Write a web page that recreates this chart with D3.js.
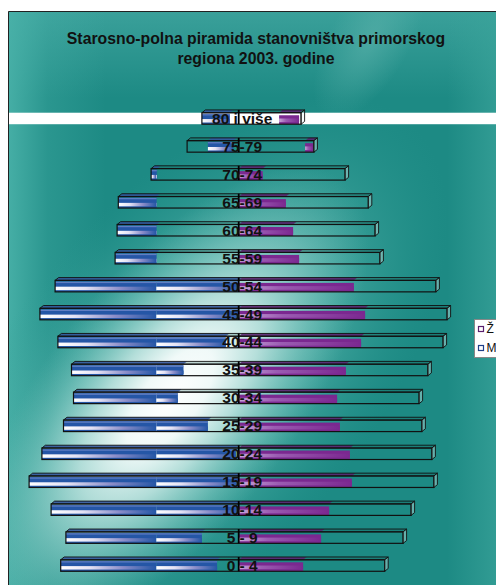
<!DOCTYPE html>
<html><head><meta charset="utf-8">
<script src="https://cdn.jsdelivr.net/npm/d3@7"></script>
<style>html,body{margin:0;padding:0;background:#fff;} svg{display:block;}</style>
</head><body>
<svg id="c" width="496" height="585"></svg>
<script>
// ---------- data ----------
const categories = ["0 - 4","5 - 9","10-14","15-19","20-24","25-29","30-34","35-39","40-44","45-49","50-54","55-59","60-64","65-69","70-74","75-79","80 i više"];
const frameLeft  = [-4450,-4320,-4690,-5240,-4920,-4380,-4130,-4180,-4520,-4970,-4590,-3090,-3040,-3010,-2190,-1290,-920];
const frameRight = [3650,4110,4310,4880,4830,4580,4510,4730,5110,5210,4930,3530,3410,3240,2660,1880,1560];
const maleStart  = [-4450,-4320,-4690,-5240,-4920,-4380,-4130,-4180,-4520,-4970,-4590,-3090,-3040,-3010,-2190,-770,-920];
const maleEnd    = [-540,-920,0,0,-70,-770,-1520,-1380,-320,0,0,-2050,-2050,-2050,-2040,-140,-220];
const femaleStart= [0,0,0,0,0,0,0,0,0,0,0,0,0,0,0,1660,1010];
const femaleEnd  = [1610,2060,2260,2830,2780,2530,2460,2680,3060,3160,2880,1510,1360,1180,600,1860,1510];
const maleBreak  = -2060;
const legendLabels = ["Ž","M"];
const titleLines = ["Starosno-polna piramida stanovništva primorskog","regiona 2003. godine"];

// ---------- setup ----------
const W = 496, H = 585;
const svg = d3.select("#c");
const defs = svg.append("defs");
const cx0 = 238.7;
const x = d3.scaleLinear().domain([-8000, 8000]).range([cx0 - 320, cx0 + 320]);
const y = d3.scaleBand().domain(categories.slice().reverse()).range([104.5, 579.5]).padding(0);

// gradients
const bg = defs.append("linearGradient").attr("id","bgv").attr("x1",0).attr("y1",0).attr("x2",0).attr("y2",1);
bg.append("stop").attr("offset",0).attr("stop-color","#3aa09a");
bg.append("stop").attr("offset",0.15).attr("stop-color","#1d8a84");
bg.append("stop").attr("offset",1).attr("stop-color","#1d8a84");
const bh = defs.append("linearGradient").attr("id","bgh").attr("x1",0).attr("y1",0).attr("x2",1).attr("y2",0);
bh.append("stop").attr("offset",0).attr("stop-color","#4ab2a9").attr("stop-opacity",0.9);
bh.append("stop").attr("offset",0.08).attr("stop-color","#4ab2a9").attr("stop-opacity",0.3);
bh.append("stop").attr("offset",0.2).attr("stop-color","#4ab2a9").attr("stop-opacity",0);
bh.append("stop").attr("offset",0.9).attr("stop-color","#3aa39a").attr("stop-opacity",0);
bh.append("stop").attr("offset",1).attr("stop-color","#3aa39a").attr("stop-opacity",0.7);
const glowBig = defs.append("radialGradient").attr("id","glowBig")
  .attr("gradientUnits","userSpaceOnUse").attr("cx",0).attr("cy",0).attr("r",1)
  .attr("gradientTransform","translate(190,380) rotate(-50) scale(340,180)");
[[0,"#9ad5cf",0.95],[0.5,"#66bcb4",0.6],[1,"#2a9a92",0]]
  .forEach(s=>glowBig.append("stop").attr("offset",s[0]).attr("stop-color",s[1]).attr("stop-opacity",s[2]));
const glow = defs.append("radialGradient").attr("id","glow")
  .attr("gradientUnits","userSpaceOnUse").attr("cx",0).attr("cy",0).attr("r",1)
  .attr("gradientTransform","translate(170,400) rotate(-52) scale(280,125)");
[[0,"#ffffff",1],[0.22,"#f4fbfa",0.97],[0.45,"#c6e7e3",0.82],[0.75,"#86cbc4",0.4],[1,"#66bcb4",0]]
  .forEach(s=>glow.append("stop").attr("offset",s[0]).attr("stop-color",s[1]).attr("stop-opacity",s[2]));
const glow2 = defs.append("radialGradient").attr("id","glow2")
  .attr("gradientUnits","userSpaceOnUse").attr("cx",0).attr("cy",0).attr("r",1)
  .attr("gradientTransform","translate(370,40) rotate(-60) scale(90,40)");
[[0,"#5db3ac",0.6],[1,"#5db3ac",0]].forEach(s=>glow2.append("stop").attr("offset",s[0]).attr("stop-color",s[1]).attr("stop-opacity",s[2]));

const blueShine = defs.append("linearGradient").attr("id","blueShine").attr("x1",0).attr("y1",0).attr("x2",1).attr("y2",0);
[[0,"#ffffff"],[0.3,"#e4e2f4"],[0.65,"#8a8cc8"],[1,"#2556a6"]].forEach(s=>blueShine.append("stop").attr("offset",s[0]).attr("stop-color",s[1]));
const purpShine = defs.append("linearGradient").attr("id","purpShine").attr("x1",0).attr("y1",0).attr("x2",1).attr("y2",0);
[[0,"#c8a6d8"],[0.35,"#9b5cb2"],[1,"#7b2890"]].forEach(s=>purpShine.append("stop").attr("offset",s[0]).attr("stop-color",s[1]));

// background
const plotL = 8.5, plotT = 11.5;
["url(#bgv)","url(#bgh)","url(#glow2)","url(#glowBig)","url(#glow)"].forEach(f=>
  svg.append("rect").attr("x",plotL).attr("y",plotT).attr("width",W-plotL).attr("height",H-plotT).attr("fill",f));
svg.append("path").attr("d",`M${plotL},${H}V${plotT}H${W}`).attr("fill","none").attr("stroke","#222").attr("stroke-width",1);

// title
const title = svg.append("text").attr("text-anchor","middle").attr("font-family","'Liberation Sans', Arial, sans-serif")
  .attr("font-weight","bold").attr("font-size","15.8px").attr("fill","#111");
titleLines.forEach((t,i)=>title.append("tspan").attr("x",256).attr("y",44 + i*20).text(t));

// rows
const step = y.step();
const hF = 11.5, dx = 3.5, dy = 2.8;
const data = categories.map((c,i)=>({c, fl:frameLeft[i], fr:frameRight[i], ms:maleStart[i], me:maleEnd[i], fs:femaleStart[i], fe:femaleEnd[i]}));

// white band artefact across the top row
const topCat = categories[categories.length-1];
svg.append("rect").attr("x",plotL+0.5).attr("y",y(topCat)+step/2-hF/2).attr("width",W-plotL).attr("height",hF).attr("fill","#ffffff");

const rows = svg.append("g").selectAll("g").data(data).join("g");
rows.each(function(d){
  const g = d3.select(this);
  const top = y(d.c) + step/2 - hF/2, bot = top + hF;
  const X = v=>x(v);
  const face = (a,b)=>`M${X(a)},${top}L${X(a)+dx},${top-dy}L${X(b)+dx},${top-dy}L${X(b)},${top}Z`;
  g.append("path").attr("d",face(d.fl,d.fr)).attr("fill","rgba(20,90,85,0.25)");
  if (d.me > d.ms) g.append("path").attr("d",face(d.ms,d.me)).attr("fill","#3456a0").attr("opacity",0.85);
  if (d.fe > d.fs) g.append("path").attr("d",face(d.fs,d.fe)).attr("fill","#5f1f72").attr("opacity",0.85);
  const segs = [];
  if (d.me > d.ms) {
    if (d.ms < maleBreak && d.me > maleBreak) { segs.push([d.ms,maleBreak]); segs.push([maleBreak,d.me]); }
    else segs.push([d.ms,d.me]);
  }
  segs.forEach(s=>{
    const x1 = X(s[0]), w = X(s[1]) - X(s[0]);
    g.append("rect").attr("x",x1).attr("y",top+1).attr("width",w).attr("height",hF-1).attr("fill","#2556a6");
    g.append("rect").attr("x",x1).attr("y",top+1.5).attr("width",w).attr("height",1.2).attr("fill","#7b8fd0").attr("opacity",0.7);
    g.append("rect").attr("x",x1).attr("y",top+hF*0.55).attr("width",w).attr("height",hF*0.3).attr("fill","url(#blueShine)");
  });
  if (d.fe > d.fs) {
    const x1 = X(d.fs), w = X(d.fe) - X(d.fs);
    g.append("rect").attr("x",x1).attr("y",top+hF*0.22).attr("width",w).attr("height",hF*0.78).attr("fill","#7b2890");
    g.append("rect").attr("x",x1).attr("y",top+hF*0.5).attr("width",w).attr("height",hF*0.32).attr("fill","url(#purpShine)");
  }
  g.append("path").attr("d",face(d.fl,d.fr)).attr("fill","none").attr("stroke","#111").attr("stroke-width",0.9);
  g.append("rect").attr("x",X(d.fl)).attr("y",top).attr("width",X(d.fr)-X(d.fl)).attr("height",hF)
    .attr("fill","none").attr("stroke","#111").attr("stroke-width",1.2);
  const xr = X(d.fr);
  g.append("path").attr("d",`M${xr},${top}L${xr+dx},${top-dy}L${xr+dx},${bot-dy}L${xr},${bot}Z`)
    .attr("fill","rgba(235,245,245,0.35)").attr("stroke","#111").attr("stroke-width",0.9);
  g.append("line").attr("x1",X(0)).attr("x2",X(0)).attr("y1",top-dy).attr("y2",bot)
    .attr("stroke","#000").attr("stroke-width",1.8);
  g.append("text").attr("x",X(0)+3.5).attr("y",bot-0.3).attr("text-anchor","middle")
    .attr("font-family","'Liberation Sans', Arial, sans-serif").attr("font-weight","bold").attr("font-size","15.5px")
    .attr("fill","#111").text(d.c);
});

// legend
const lg = svg.append("g");
lg.append("rect").attr("x",474.5).attr("y",319.5).attr("width",30).attr("height",38).attr("fill","#fff").attr("stroke","#888");
const lcol = ["#5a1f6e","#1f3f8a"];
legendLabels.forEach((t,i)=>{
  lg.append("rect").attr("x",478.5).attr("y",326.5 + i*19).attr("width",5).attr("height",5).attr("fill","#fff").attr("stroke",lcol[i]).attr("stroke-width",1.2);
  lg.append("text").attr("x",486.5).attr("y",333 + i*19).attr("font-family","'Liberation Sans', Arial, sans-serif")
    .attr("font-size","12px").attr("fill","#111").text(t);
});
</script>
</body></html>
